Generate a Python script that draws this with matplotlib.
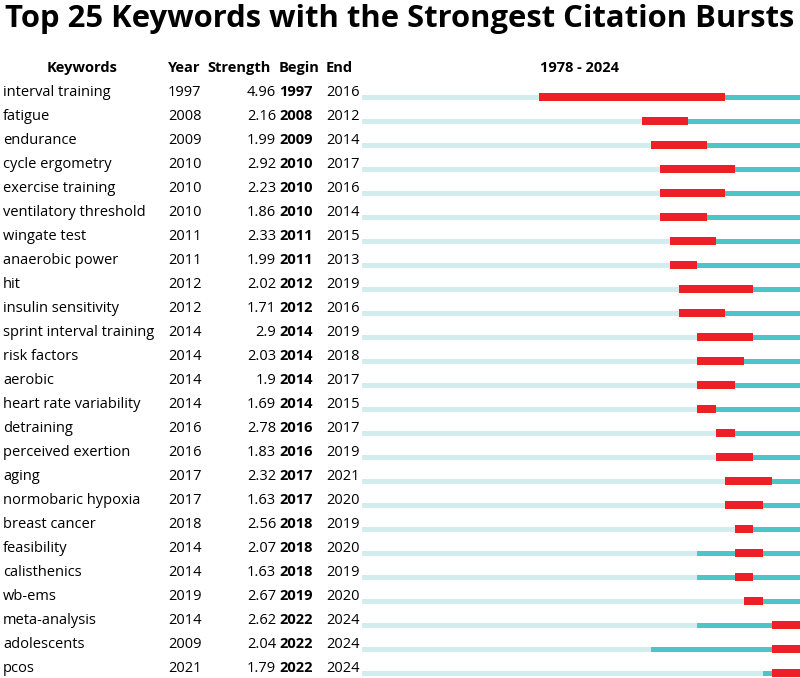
import matplotlib
matplotlib.use("Agg")
import matplotlib.pyplot as plt

keywords = ["interval training", "fatigue", "endurance", "cycle ergometry", "exercise training",
            "ventilatory threshold", "wingate test", "anaerobic power", "hit", "insulin sensitivity",
            "sprint interval training", "risk factors", "aerobic", "heart rate variability", "detraining",
            "perceived exertion", "aging", "normobaric hypoxia", "breast cancer", "feasibility",
            "calisthenics", "wb-ems", "meta-analysis", "adolescents", "pcos"]
years = [1997, 2008, 2009, 2010, 2010, 2010, 2011, 2011, 2012, 2012, 2014, 2014, 2014, 2014, 2016,
         2016, 2017, 2017, 2018, 2014, 2014, 2019, 2014, 2009, 2021]
strength = [4.96, 2.16, 1.99, 2.92, 2.23, 1.86, 2.33, 1.99, 2.02, 1.71, 2.9, 2.03, 1.9, 1.69, 2.78,
            1.83, 2.32, 1.63, 2.56, 2.07, 1.63, 2.67, 2.62, 2.04, 1.79]
begin = [1997, 2008, 2009, 2010, 2010, 2010, 2011, 2011, 2012, 2012, 2014, 2014, 2014, 2014, 2016,
         2016, 2017, 2017, 2018, 2018, 2018, 2019, 2022, 2022, 2022]
end = [2016, 2012, 2014, 2017, 2016, 2014, 2015, 2013, 2019, 2016, 2019, 2018, 2017, 2015, 2017,
       2019, 2021, 2020, 2019, 2020, 2019, 2020, 2024, 2024, 2024]
start_year, end_year = 1978, 2024

FONT = "Open Sans"
W, H = 800, 678
fig = plt.figure(figsize=(W / 100, H / 100), dpi=100)

row0, dy = 97, 24
ylo = (H - row0) / dy
yhi = -row0 / dy

# table axes (pixel x)
axt = fig.add_axes([0, 0, 1, 1])
axt.set_xlim(0, W)
axt.set_ylim(ylo, yhi)
axt.axis("off")

# bars axes
x0 = 362
ax = fig.add_axes([x0 / W, 0, (W - x0) / W, 1])
ax.set_xlim(start_year, end_year + 1)
ax.set_ylim(ylo, yhi)
ax.axis("off")

light = "#d2eded"
teal = "#4fc4c4"
red = "#ee1f26"
lh = 5 / dy
rh = 8.5 / dy

n = len(keywords)
rows = list(range(n))
ax.barh(rows, [y - start_year for y in years], left=start_year, height=lh, color=light, linewidth=0)
ax.barh(rows, [end_year + 1 - y for y in years], left=years, height=lh, color=teal, linewidth=0)
ax.barh(rows, [e + 1 - b for b, e in zip(begin, end)], left=begin, height=rh, color=red, linewidth=0)

fs = 10.5
toff = -5 / dy
for i in rows:
    yy = i + toff
    axt.text(3, yy, keywords[i], fontsize=fs, family=FONT, va="center", ha="left")
    axt.text(168, yy, str(years[i]), fontsize=fs, family=FONT, va="center", ha="left")
    axt.text(276, yy, f"{strength[i]}", fontsize=fs, family=FONT, va="center", ha="right")
    axt.text(279, yy, str(begin[i]), fontsize=fs, family=FONT, va="center", ha="left", fontweight="bold")
    axt.text(326, yy, str(end[i]), fontsize=fs, family=FONT, va="center", ha="left")

hy = (68 - row0) / dy
axt.text(82, hy, "Keywords", fontsize=fs, family=FONT, va="center", ha="center", fontweight="bold")
axt.text(168, hy, "Year", fontsize=fs, family=FONT, va="center", ha="left", fontweight="bold")
axt.text(207, hy, "Strength", fontsize=fs, family=FONT, va="center", ha="left", fontweight="bold")
axt.text(279, hy, "Begin", fontsize=fs, family=FONT, va="center", ha="left", fontweight="bold")
axt.text(326, hy, "End", fontsize=fs, family=FONT, va="center", ha="left", fontweight="bold")
axt.text(580, hy, f"{start_year} - {end_year}", fontsize=fs, family=FONT, va="center", ha="center", fontweight="bold")

ty = (27 - row0) / dy
axt.text(400, ty, "Top 25 Keywords with the Strongest Citation Bursts", fontsize=22.3, family=FONT,
         va="baseline", ha="center", fontweight="bold")

fig.savefig("out.png", dpi=100)
